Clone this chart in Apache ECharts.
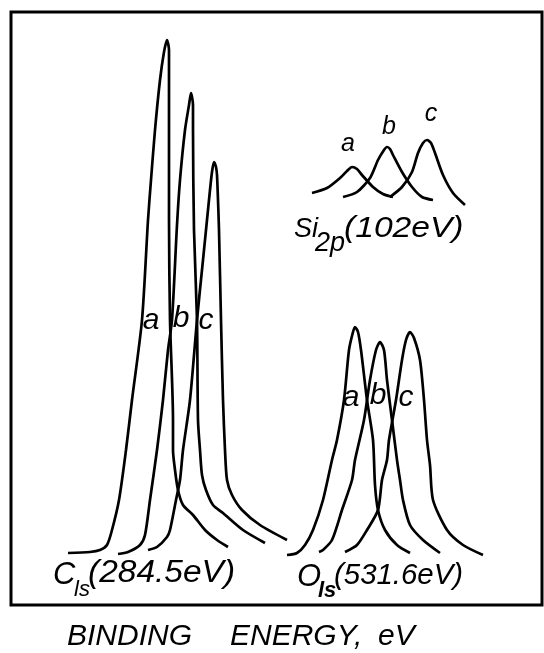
<!DOCTYPE html>
<html>
<head>
<meta charset="utf-8">
<script src="https://cdn.jsdelivr.net/npm/echarts@6/dist/echarts.min.js"></script>
<style>html,body{margin:0;padding:0;background:#fff}#c{width:544px;height:653px}</style>
</head>
<body>
<div id="c"></div>
<script>
// Relative energy (x) and intensity (y), arbitrary units
const c1sA = [[57,52],[79,53],[89,55],[96,60],[101,75],[108,105],[115,155],[121,205],[131,285],[137,385],[140,425],[144,475],[149,525],[153,553],[156,565],[158,555],[158,505],[158,438],[158,385],[159,285],[162,185],[162,155],[164,135],[167,115],[172,100],[182,90],[194,75],[206,65],[217,58]];
const c1sB = [[107,51],[117,53],[129,60],[134,70],[139,105],[146,155],[152,205],[157,255],[161,285],[166,380],[169,425],[174,475],[178,500],[180,512],[182,500],[182,475],[183,375],[186,285],[187,185],[189,155],[191,130],[195,115],[202,100],[212,92],[232,75],[254,62]];
const c1sC = [[137,55],[146,58],[156,68],[159,75],[165,105],[169,125],[172,155],[179,205],[186,285],[192,345],[196,385],[199,415],[201,433],[203,443],[205,438],[206,430],[207,405],[208,375],[210,285],[212,205],[214,155],[216,125],[221,110],[231,95],[249,80],[276,65]];
const o1sA = [[276,50],[286,52],[294,60],[302,75],[312,105],[321,145],[326,165],[333,205],[338,255],[342,273],[344,278],[347,273],[350,255],[356,205],[362,165],[364,120],[367,95],[374,75],[386,60],[399,52]];
const o1sB = [[308,53],[312,55],[321,65],[331,95],[341,125],[344,145],[353,185],[359,225],[365,255],[369,263],[373,255],[376,225],[381,185],[386,145],[389,125],[392,105],[399,80],[412,65],[429,52]];
const o1sC = [[334,53],[346,60],[356,75],[367,95],[371,125],[376,145],[378,165],[385,205],[391,245],[395,265],[399,273],[403,267],[409,245],[413,205],[416,165],[419,140],[422,105],[436,75],[452,60],[472,50]];
const si2pA = [[301,412],[316,417],[329,427],[336,434],[341,438],[346,436],[351,430],[362,418],[372,411],[382,408]];
const si2pB = [[332,408],[346,413],[359,427],[367,445],[373,455],[376,458],[379,456],[382,450],[391,433],[401,418],[411,408],[422,405]];
const si2pC = [[379,408],[391,418],[401,433],[407,452],[412,462],[416,465],[420,462],[424,452],[432,430],[442,412],[454,400]];
const curveNames = ['a','b','c'];

const chart = echarts.init(document.getElementById('c'));
const FONT = '"Liberation Sans", "DejaVu Sans", sans-serif';
function ser(name, data){
  return {type:'line', name:name, data:data, smooth:0.25, symbol:'none',
    lineStyle:{color:'#000', width:2.7}, animation:false, silent:true};
}
function txt(text, x, y, size, align, sx, bold){
  return {type:'text', x:x, y:y, scaleX: sx || 1, silent:true,
    style:{text:text, font:'italic ' + (bold ? 'bold ' : '') + size + 'px ' + FONT, fill:'#000',
      textAlign: align || 'center', textVerticalAlign:'middle'}};
}
const series = [
  ser('C1s ' + curveNames[0], c1sA), ser('C1s ' + curveNames[1], c1sB), ser('C1s ' + curveNames[2], c1sC),
  ser('O1s ' + curveNames[0], o1sA), ser('O1s ' + curveNames[1], o1sB), ser('O1s ' + curveNames[2], o1sC),
  ser('Si2p ' + curveNames[0], si2pA), ser('Si2p ' + curveNames[1], si2pB), ser('Si2p ' + curveNames[2], si2pC)
];
chart.setOption({
  backgroundColor:'#fff',
  animation:false,
  grid:{left:11, right:2, top:12, bottom:48, show:true, borderColor:'#000', borderWidth:3, backgroundColor:'transparent'},
  xAxis:{type:'value', min:0, max:531, show:false},
  yAxis:{type:'value', min:0, max:593, show:false},
  series: series,
  graphic: [
    // peak labels
    txt(curveNames[0], 151, 321, 30), txt(curveNames[1], 181, 319, 30), txt(curveNames[2], 206, 321, 30),
    txt(curveNames[0], 351, 398, 30), txt(curveNames[1], 378, 396, 30), txt(curveNames[2], 406, 398, 30),
    txt(curveNames[0], 348, 144, 25), txt(curveNames[1], 389, 127, 25), txt(curveNames[2], 431, 114, 25),
    // Si2p label
    txt('Si', 294, 229, 27, 'left'), txt('2p', 315, 243, 27, 'left'), txt('(102eV)', 344, 229, 30, 'left', 1.12),
    // C1s label
    txt('C', 53, 575, 31, 'left'), txt('ls', 74, 590, 22, 'left'), txt('(284.5eV)', 88, 573, 31, 'left', 1.08),
    // O1s label
    txt('O', 297, 577, 31, 'left'), txt('ls', 318, 591, 22, 'left', 1, true), txt('(531.6eV)', 334, 576, 30, 'left', 0.98),
    // axis title
    txt('BINDING', 67, 637, 30, 'left'), txt('ENERGY,', 230, 637, 30, 'left'), txt('eV', 378, 637, 30, 'left')
  ]
});
</script>
</body>
</html>
